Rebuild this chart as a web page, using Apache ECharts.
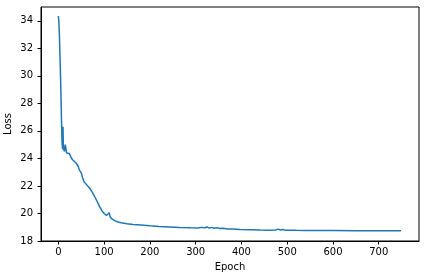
<!DOCTYPE html>
<html>
<head>
<meta charset="utf-8">
<script src="https://cdn.jsdelivr.net/npm/echarts@6/dist/echarts.min.js"></script>
<style>
  html, body { margin: 0; padding: 0; background: #fff; }
  #chart { width: 424px; height: 280px; }
</style>
</head>
<body>
<div id="chart"></div>
<script>
// values
const epochs = [
  0, 1, 2, 3, 4, 5, 6, 7, 8, 9, 10, 11, 12, 13, 14, 15, 16, 17, 18, 20,
  22, 24, 26, 28, 31, 35, 39, 43, 46, 50, 53, 56, 60, 64, 68, 73, 79, 85, 90, 95,
  100, 105, 109, 111, 113, 117, 123, 130, 137, 150, 163, 180, 200, 220, 243, 265, 290, 305, 309, 312,
  316, 320, 325, 330, 335, 340, 347, 352, 360, 370, 380, 397, 420, 441, 460, 475, 480, 485, 490, 495,
  507, 520, 540, 560, 600, 650, 700, 749
];
const losses = [
  34.35, 33.9, 33.2, 32.0, 30.8, 29.5, 28.0, 26.5, 25.2, 24.7, 26.3, 24.6, 24.9, 24.5, 24.7, 25.0, 24.9, 24.6, 24.4, 24.45,
  24.3, 24.35, 24.2, 24.05, 23.9, 23.85, 23.65, 23.45, 23.15, 22.95, 22.6, 22.3, 22.15, 22.05, 21.85, 21.6, 21.25, 20.85, 20.5, 20.2,
  20.0, 19.85, 19.75, 20.05, 19.75, 19.6, 19.48, 19.38, 19.32, 19.25, 19.2, 19.16, 19.1, 19.05, 19.02, 18.98, 18.96, 18.95, 19.08, 18.99,
  19.05, 18.96, 19.02, 18.94, 18.99, 18.93, 18.97, 18.91, 18.93, 18.88, 18.87, 18.84, 18.82, 18.8, 18.79, 18.8, 18.86, 18.8, 18.84, 18.79,
  18.79, 18.78, 18.77, 18.77, 18.76, 18.75, 18.74, 18.74
];
const xTicks = [0, 100, 200, 300, 400, 500, 600, 700];
const yTicks = [18, 20, 22, 24, 26, 28, 30, 32, 34];

const chart = echarts.init(document.getElementById("chart"));

const axisText = { color: "#000", fontFamily: "DejaVu Sans", fontSize: 10 };

chart.setOption({
  animation: false,
  grid: {
    left: 41,
    right: 5,
    top: 7,
    bottom: 39,
    outerBoundsMode: "none",
    containLabel: false,
    show: true,
    borderColor: "#000",
    borderWidth: 1,
  },
  xAxis: {
    type: "value",
    min: -38,
    max: 788,
    name: "Epoch",
    nameLocation: "middle",
    nameGap: 21,
    nameMoveOverlap: false,
    nameTextStyle: axisText,
    axisLine: { show: true, onZero: false, lineStyle: { color: "#000", width: 1 } },
    axisTick: { show: true, length: 3.5, lineStyle: { color: "#000" }, customValues: xTicks },
    axisLabel: { ...axisText, margin: 6.5, customValues: xTicks },
    splitLine: { show: false },
  },
  yAxis: {
    type: "value",
    min: 18,
    max: 35,
    name: "Loss",
    nameLocation: "middle",
    nameGap: 28,
    nameMoveOverlap: false,
    nameTextStyle: axisText,
    axisLine: { show: true, onZero: false, lineStyle: { color: "#000", width: 1 } },
    axisTick: { show: true, length: 3.5, lineStyle: { color: "#000" }, customValues: yTicks },
    axisLabel: { ...axisText, margin: 8, customValues: yTicks },
    splitLine: { show: false },
  },
  series: [
    {
      type: "line",
      data: epochs.map((e, i) => [e, losses[i]]),
      showSymbol: false,
      lineStyle: { color: "#1f77b4", width: 1.5 },
    },
  ],
});
</script>
</body>
</html>
